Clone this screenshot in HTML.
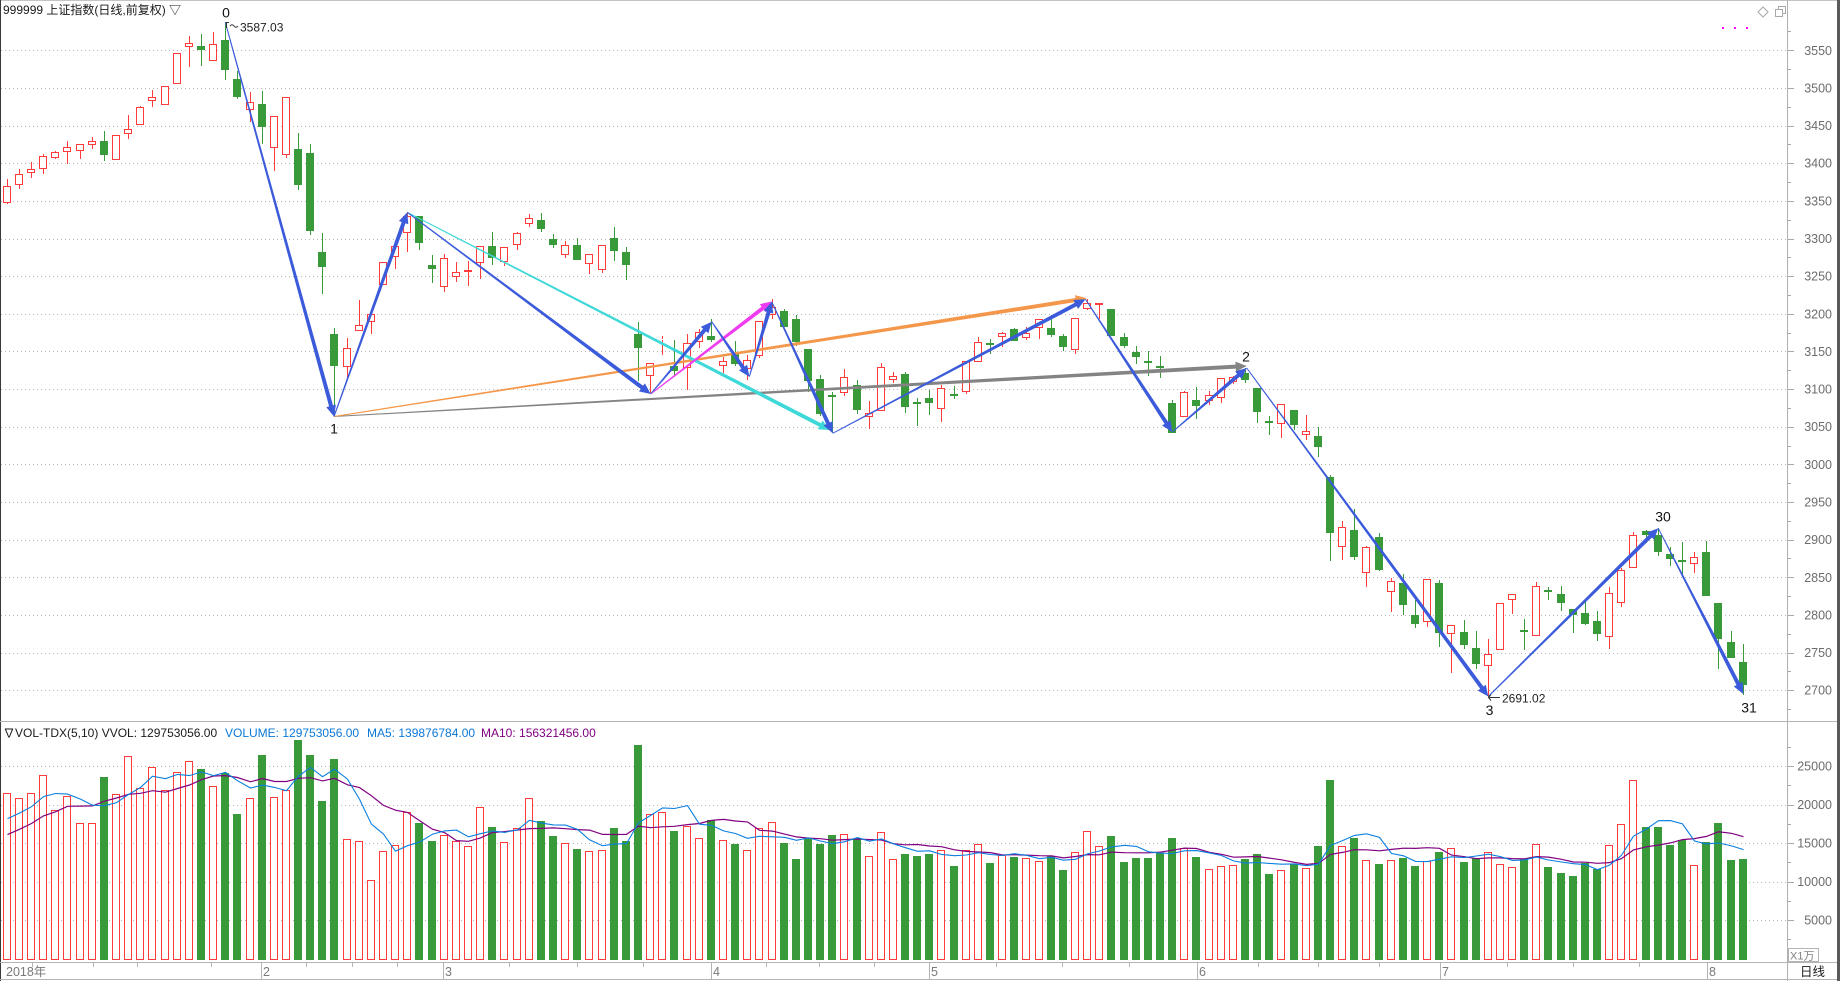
<!DOCTYPE html>
<html><head><meta charset="utf-8">
<style>
html,body{margin:0;padding:0;background:#fff;}
body{width:1840px;height:981px;overflow:hidden;position:relative;font-family:"Liberation Sans","Noto Sans CJK SC",sans-serif;}
svg{position:absolute;left:0;top:0;}
</style></head><body>
<svg id="c" width="1840" height="981" xmlns="http://www.w3.org/2000/svg" font-family="Liberation Sans, Noto Sans CJK SC, DejaVu Sans, sans-serif">
<rect x="0" y="0" width="1840" height="981" fill="#ffffff"/>
<g id="grid" shape-rendering="crispEdges"></g>
<g id="vol" shape-rendering="crispEdges"></g>
<g id="ma" fill="none"></g>
<g id="cand" shape-rendering="crispEdges"></g>
<g id="lines"></g>
<g id="frame" shape-rendering="crispEdges">
  <line x1="0" y1="0.5" x2="1840" y2="0.5" stroke="#c4c4c4"/>
  <line x1="0.5" y1="0" x2="0.5" y2="981" stroke="#3a3a3a"/>
  <rect x="1837" y="0" width="3" height="981" fill="#5a5a5a"/>
  <line x1="1787.5" y1="0" x2="1787.5" y2="981" stroke="#b0b0b0"/>
  <line x1="0" y1="721.5" x2="1837" y2="721.5" stroke="#b4b4b4"/>
  <line x1="0" y1="962.5" x2="1837" y2="962.5" stroke="#b4b4b4"/>
  <line x1="0" y1="979.5" x2="1837" y2="979.5" stroke="#b4b4b4"/>
  <rect x="1788.5" y="948.5" width="30" height="13" fill="#fff" stroke="#b4b4b4"/>
</g>
<!-- titles -->
<text x="3" y="14" font-size="12" fill="#1a1a1a">999999 上证指数(日线,前复权) ▽</text>
<text x="3" y="737" font-size="12" fill="#1a1a1a">∇VOL-TDX(5,10) VVOL: 129753056.00</text>
<text x="225" y="737" font-size="12" fill="#0a78d8">VOLUME: 129753056.00</text>
<text x="367" y="737" font-size="12" fill="#0a78d8">MA5: 139876784.00</text>
<text x="481" y="737" font-size="12" fill="#800080">MA10: 156321456.00</text>
<!-- top-right icons -->
<path d="M1763,7 L1768,12 L1763,17 L1758,12 Z" fill="none" stroke="#a8a8a8"/>
<rect x="1778.5" y="6.5" width="7" height="7" fill="none" stroke="#a8a8a8"/>
<rect x="1775.5" y="9.5" width="7" height="7" fill="#fff" stroke="#a8a8a8"/>
<rect x="1722" y="27" width="2" height="2" fill="#ff00ff"/>
<rect x="1734" y="27" width="2" height="2" fill="#ff00ff"/>
<rect x="1746" y="27" width="2" height="2" fill="#ff00ff"/>
<!-- price axis labels -->
<g font-size="12.5" fill="#6c6c6c" text-anchor="end">
<text x="1832" y="54.8">3550</text>
<text x="1832" y="92.4">3500</text>
<text x="1832" y="130">3450</text>
<text x="1832" y="167.7">3400</text>
<text x="1832" y="205.3">3350</text>
<text x="1832" y="243">3300</text>
<text x="1832" y="280.6">3250</text>
<text x="1832" y="318.3">3200</text>
<text x="1832" y="355.9">3150</text>
<text x="1832" y="393.5">3100</text>
<text x="1832" y="431.2">3050</text>
<text x="1832" y="468.8">3000</text>
<text x="1832" y="506.5">2950</text>
<text x="1832" y="544.1">2900</text>
<text x="1832" y="581.8">2850</text>
<text x="1832" y="619.4">2800</text>
<text x="1832" y="657">2750</text>
<text x="1832" y="694.7">2700</text>
</g>
<!-- volume axis labels -->
<g font-size="12.5" fill="#6c6c6c" text-anchor="end">
<text x="1832" y="770.5">25000</text>
<text x="1832" y="809">20000</text>
<text x="1832" y="847.5">15000</text>
<text x="1832" y="886">10000</text>
<text x="1832" y="924.5">5000</text>
</g>
<text x="1790" y="959.5" font-size="11" fill="#808080">X1万</text>
<text x="1800" y="976" font-size="12.5" fill="#1a1a1a">日线</text>
<!-- x axis labels -->
<g font-size="12.5" fill="#7a7a7a">
<text x="6" y="976">2018年</text>
<text x="263" y="976">2</text>
<text x="445" y="976">3</text>
<text x="713" y="976">4</text>
<text x="931" y="976">5</text>
<text x="1199" y="976">6</text>
<text x="1442" y="976">7</text>
<text x="1709" y="976">8</text>
</g>
<!-- pivot labels -->
<g font-size="14" fill="#111" text-anchor="middle">
<text x="226" y="17.5">0</text>
<text x="334" y="433.5">1</text>
<text x="1246" y="361.5">2</text>
<text x="1489.5" y="715">3</text>
<text x="1663" y="521.5">30</text>
<text x="1749" y="712.5">31</text>
</g>
<text x="240" y="31.5" font-size="12" fill="#222">3587.03</text>
<path d="M226.5,28 L226.5,22.5 L229,22.5 M230,26 q2,-2.5 4,0 t4,0" fill="none" stroke="#333" stroke-width="1"/>
<text x="1502" y="702.5" font-size="12" fill="#222">2691.02</text>
<path d="M1491,694.5 L1488.5,697.5 L1491,700.5 M1489,697.5 L1500,697.5" fill="none" stroke="#333" stroke-width="1"/>
</svg>
<script>
(function(){
const NS='http://www.w3.org/2000/svg';
function el(tag,attrs,parent){const e=document.createElementNS(NS,tag);for(const k in attrs)e.setAttribute(k,attrs[k]);parent.appendChild(e);return e;}
const gGrid=document.getElementById('grid'),gVol=document.getElementById('vol'),gMa=document.getElementById('ma'),gC=document.getElementById('cand'),gL=document.getElementById('lines');
const RED='#ff3b3b',GREEN='#389a38';
function py(p){return 50.3+(3550-p)*0.7528;}
// price grid + ticks
for(let p=3550;p>=2700;p-=50){const y=Math.round(py(p))+0.5;
 el('line',{x1:1,x2:1786,y1:y,y2:y,stroke:'#b6b6b6','stroke-dasharray':'1 3'},gGrid);
 el('line',{x1:1788,x2:1794,y1:y,y2:y,stroke:'#a8a8a8'},gGrid);}
for(let p=3575;p>=2675;p-=50){const y=Math.round(py(p))+0.5; if(y>3&&y<719) el('line',{x1:1788,x2:1791,y1:y,y2:y,stroke:'#a8a8a8'},gGrid);}
// volume grid
function vy(v){return 958.5-v*0.0077;}
[25000,20000,15000,10000,5000].forEach(v=>{const y=Math.round(vy(v))+0.5;
 el('line',{x1:1,x2:1786,y1:y,y2:y,stroke:'#b6b6b6','stroke-dasharray':'1 3'},gGrid);
 el('line',{x1:1788,x2:1794,y1:y,y2:y,stroke:'#a8a8a8'},gGrid);});
[27500,22500,17500,12500,7500,2500].forEach(v=>{const y=Math.round(vy(v))+0.5;el('line',{x1:1788,x2:1791,y1:y,y2:y,stroke:'#a8a8a8'},gGrid);});
// x axis ticks
[261,443,711,929,1197,1440,1707].forEach(x=>{el('line',{x1:x+0.5,x2:x+0.5,y1:963,y2:979,stroke:'#b4b4b4'},gGrid);});
[32,93,137,211,306,352,397,509,577,643,766,819,874,996,1062,1129,1258,1318,1379,1507,1573,1639].forEach(x=>{el('line',{x1:x+0.5,x2:x+0.5,y1:963,y2:967,stroke:'#b4b4b4'},gGrid);});

const C=[
['r',186,202.7,179.3,203.7],['r',174.3,185.3,169.3,188.7],['r',169.3,173.3,162.3,177.7],['r',156.3,169.3,154.3,174],['r',152.3,158,151,159.3],
['r',146.7,152.3,141.3,163.7],['r',144.3,151,144.3,158.7],['r',141.3,145.3,137,148.7],['g',141.3,154.7,131,160.7],['r',135.3,160.3,135.3,160.3],
['r',129.3,134.3,115.3,139.3],['r',107.3,125.3,106.3,125.3],['r',97.3,101.3,90,106.7],['r',86.3,105.3,86.3,105.3],['r',53.3,84.3,53.3,84.3],
['r',43.3,47.3,36,66.7],['g',46.3,50.3,34,65.7],['r',44.3,61.3,32,61.3],['g',40,69.7,22.3,79.7],['g',79.3,96.7,70.7,99],
['r',102.3,110.3,92.3,121.7],['g',104,126.7,91,143.7],['r',116.3,148.3,116.3,170.7],['r',97.3,154.7,97.3,157.7],['g',149,184.7,133,189.7],
['g',153,230.7,144,234.7],['g',252,266.7,232.7,293.7],['g',334,365.7,328,416.7],['r',348.3,367.3,337.7,377.7],['r',325.3,331.3,300,331.3],
['r',314.3,322,314.3,334.3],['r',262.3,285.3,262.3,285.3],['r',246.3,257.3,246.3,268.7],['r',216.3,233.3,212.3,251.7],['g',216.3,243.3,216.3,249.7],
['g',265.3,268.7,255.3,282.7],['r',258.3,287.3,254,291.7],['r',272.3,277.3,262.3,281.7],['r',270.3,271.7,261.3,285.7],['r',246.3,263.3,246.3,279.3],
['g',246.3,258.3,232.3,264.7],['r',247.3,262.3,247.3,266.3],['r',233.3,245.3,232.3,249.7],['r',218.3,224.3,214.3,227.3],['g',220.3,229.3,213.3,232.3],
['g',239.3,244.7,234.3,247.7],['r',245.3,255.3,241.3,257.7],['g',245.3,260.3,238.3,260.3],['r',254.3,264.3,254.3,274.3],['r',245.3,270.3,245.3,273.3],
['g',238.3,251.3,227.3,261.3],['g',252.3,265.3,247.3,280.3],['g',334,348.3,322.3,380.7],['r',363.3,376.3,363.3,393.3],['r',338.7,340.3,335.7,355.3],
['g',366.3,371.3,340.3,375.3],['r',343.3,368.3,334.3,389.7],['r',332,342,329,348],['g',336.3,340.3,319.3,342.3],['r',361.3,366.3,357.3,373.3],
['g',353.3,364.3,341.3,366.3],['r',360,369.3,355,380],['r',321.3,355.7,321.3,358.3],['r',306.7,315.3,299.3,319.3],['g',311.3,327.3,309.3,327.3],
['g',319.3,342.3,315.3,346.3],['g',349.3,380.7,349.3,391.7],['g',379,413.7,375.3,415.7],['g',394.7,396,391.7,433.3],['r',376.7,393.3,369,395.7],
['g',385.3,409.7,380.3,413.7],['r',413.3,416.7,401.3,428.7],['r',367.3,411.3,363.3,411.3],['r',375.7,379.7,372.3,382.7],['g',374.3,406.7,372.3,412.7],
['g',402.3,403,398,425.7],['g',398,402.7,390,414.7],['r',388,408.7,385.3,421.7],['g',394,395,386.3,399.3],['r',361.3,392.3,361.3,394.3],
['r',342.3,362.3,337.3,362.3],['g',342.7,343.7,338.7,353.7],['r',333.3,337.3,331.7,346.7],['g',329.3,340.7,328.3,341.3],['r',333.3,338.3,327.3,340.3],
['r',319.3,328.3,319.3,339.3],['g',328.3,335.3,315.3,337.3],['g',336.3,347.3,334.3,351.3],['r',318.3,350.3,318.3,354.3],['r',303.3,309.3,299.3,310.3],
['r',303.3,305.3,303.3,319.3],['g',309.3,336.3,309.3,336.3],['g',337.3,346.3,333.3,348.3],['g',352.3,357.3,346.3,364.3],['g',360.7,361.3,351.3,376.3],
['g',366,368.3,355.7,378.3],['g',403,432.7,400,432.7],['r',392.3,417.3,391.3,417.3],['g',400.3,406.3,387.3,418.7],['r',395.3,401.3,391.3,405.3],
['r',378.3,398.3,378.3,403.3],['r',377.3,382.3,376.3,384.3],['g',373.3,380.3,368.3,383.3],['g',388.3,412.3,388.3,423.3],['g',421.3,423.3,416.3,434.7],
['r',404.3,424.3,404.3,437.7],['g',410.3,425.3,410.3,430.3],['r',431.3,435.3,415.3,439.7],['g',436.3,446.7,427.3,456.7],['g',477,532.7,475,560.7],
['r',527.3,547.3,521.3,559.7],['g',530.3,556.7,509.3,559.7],['r',547.3,573.3,546.3,586.7],['g',537.3,569.7,533.3,570.7],['r',581.3,592.3,578.3,611.7],
['g',583.3,604.7,574.3,614.7],['g',615.3,623.7,600.3,627.7],['r',579.3,622.3,579.3,627.3],['g',583.3,632.7,580.3,646.7],['r',624.7,634.3,624.7,672.7],
['g',632.3,644.7,620.3,648.7],['g',648.3,663.7,631.3,668.7],['r',654.3,666.3,639.3,696.5],['r',603.3,650.3,603.3,650.3],['r',594.3,600.3,594.3,613.7],
['g',629.7,630.7,619.3,649.7],['r',586.3,636.3,582.3,636.3],['g',590,590.7,587.3,600.3],['g',594,603.3,586,611],['g',609.3,615.3,609.3,632.7],
['g',613.3,623.7,601.7,624.7],['g',621.3,634.3,611,640.7],['r',592.7,637.3,587,648.7],['r',570.3,603.3,568.3,606.7],['r',535.3,568.3,532.3,568.3],
['g',531.3,535.3,530,543.3],['g',535.3,552.3,528.3,556.3],['g',554.3,558.7,547.3,565.7],['g',560.3,561.3,542.3,577.3],['r',557.3,564.3,552.3,573.3],
['g',552,595.7,541,595.7],['g',603.3,638.7,603.3,669.3],['g',642.3,658.3,631.3,658.3],['g',662.3,685.3,643.7,695.3]
];
const V=[21522,20870,21522,23870,19348,21130,17609,17609,23522,21391,26348,22174,24913,21913,24174,25609,24565,22435,24043,18826,20870,26391,21000,21913,28348,26391,20391,25870,15522,15261,10174,13957,14783,19043,17652,15304,16087,15304,14652,19696,17130,
15125,16940,20830,17891,15946,14996,14261,13958,14088,16984,15298,27744,18755,19015,16595,17200,15644,18021,15385,14909,14088,16940,17718,15039,12965,15644,14909,16076,16162,15687,13310,16422,12921,13613,13354,13613,14088,12057,14088,14866,12446,
13397,13224,13094,12662,13310,11538,13829,16552,14607,15947,12576,13094,13094,13699,15687,14347,13224,11625,12014,12144,12965,13613,11020,11495,12316,11798,14650,23207,14607,15687,12792,12316,12792,13094,12057,12662,13872,14347,12576,13094,13829,12300,
11905,12900,14892,11948,11039,10779,12338,11645,14762,17489,23203,17013,17013,14805,15368,12078,15152,17662,12857,12975];
function cxOf(i){return Math.round(6.7+12.14*i);}
// candles
C.forEach((c,i)=>{const cx=cxOf(i);const t=Math.round(c[1]),b=Math.round(c[2]),h=Math.round(c[3]),l=Math.round(c[4]);
 if(c[0]==='r'){
  if(h<t) el('line',{x1:cx+0.5,x2:cx+0.5,y1:h,y2:t,stroke:RED},gC);
  if(l>b) el('line',{x1:cx+0.5,x2:cx+0.5,y1:b,y2:l,stroke:RED},gC);
  const hh=Math.max(b-t-1,0);
  el('rect',{x:cx-3.5,y:t+0.5,width:7,height:hh,fill:'#fff',stroke:RED},gC);
 } else {
  el('line',{x1:cx+0.5,x2:cx+0.5,y1:h,y2:l,stroke:GREEN},gC);
  el('rect',{x:cx-4,y:t,width:8,height:Math.max(b-t,2),fill:GREEN},gC);
 }
});
// volume bars
V.forEach((v,i)=>{const cx=cxOf(i);const top=Math.round(vy(v));const isR=C[i][0]==='r';
 if(isR) el('rect',{x:cx-3.5,y:top+0.5,width:7,height:960-top-1,fill:'#fff',stroke:RED},gVol);
 else el('rect',{x:cx-4,y:top,width:8,height:960-top,fill:GREEN},gVol);
});
// MAs
const pre=[14000,14000,14000,14000,14000,17337,17337,17337,17337];const all=pre.concat(V);
let p5=[],p10=[];
for(let i=0;i<V.length;i++){let s5=0,s10=0;for(let k=0;k<5;k++)s5+=all[i+9-k];for(let k=0;k<10;k++)s10+=all[i+9-k];
 const x=cxOf(i)+0.5;p5.push(x+','+vy(s5/5).toFixed(1));p10.push(x+','+vy(s10/10).toFixed(1));}
el('polyline',{points:p10.join(' '),stroke:'#800080','stroke-width':1.2},gMa);
el('polyline',{points:p5.join(' '),stroke:'#0a7fe0','stroke-width':1.1},gMa);
// tapered arrows
function arrow(x0,y0,x1,y1,color,w0,w1,hl,hw){
 const dx=x1-x0,dy=y1-y0,L=Math.hypot(dx,dy);const ux=dx/L,uy=dy/L,nx=-uy,ny=ux;
 const bx=x1-ux*hl,by=y1-uy*hl;
 const pts=[[x0+nx*w0/2,y0+ny*w0/2],[bx+nx*w1/2,by+ny*w1/2],[bx+nx*hw,by+ny*hw],[x1,y1],[bx-nx*hw,by-ny*hw],[bx-nx*w1/2,by-ny*w1/2],[x0-nx*w0/2,y0-ny*w0/2]];
 el('polygon',{points:pts.map(p=>p[0].toFixed(1)+','+p[1].toFixed(1)).join(' '),fill:color},gL);
}
const BL='#3b5bdb';
arrow(334,416.5,1246.7,366,'#848484',1,4,11,5);
arrow(334,416.5,1086.7,298.3,'#f5974a',1,4,11,5);
arrow(407.3,212.3,830,430,'#3fd8d8',1,4,11,5);
arrow(650.7,394,771.5,301.5,'#f03cf0',1,4,11,5);
const Z=[[225.3,22.3],[334,416.5],[407.3,212.3],[650.7,394],[711.7,321.7],[749.3,376.7],[771.7,301.7],[832.7,433.3],[1085.5,299.3],[1172.3,432],[1246.7,368],[1488.3,696.5],[1658.3,528.3],[1743.3,694]];
for(let i=0;i<Z.length-1;i++) arrow(Z[i][0],Z[i][1],Z[i+1][0],Z[i+1][1],BL,1,4,11,5);
})();
</script>
</body></html>
